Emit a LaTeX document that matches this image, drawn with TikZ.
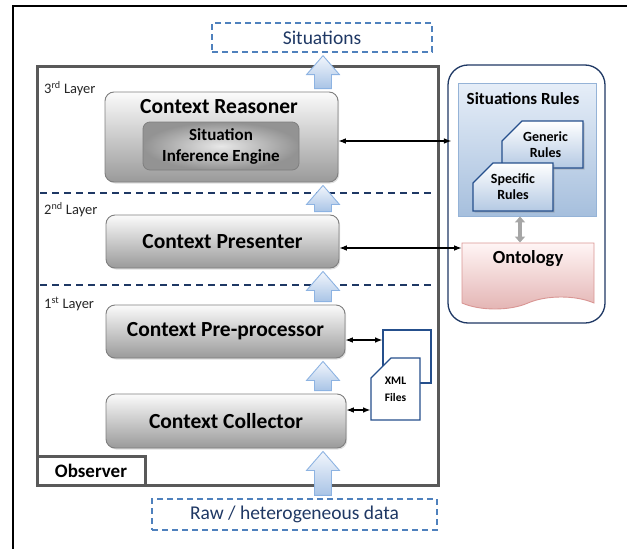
\documentclass[tikz,border=0pt]{standalone}
\usepackage{fontspec}
\setmainfont{Carlito}
\usetikzlibrary{arrows.meta}
\usetikzlibrary{calc}
\usetikzlibrary{shapes.misc}
\usetikzlibrary{shapes.symbols}
\usetikzlibrary{shadows}

\definecolor{dashblue}{HTML}{4F81BD}
\definecolor{navytext}{HTML}{1F3864}
\definecolor{divnavy}{HTML}{1F3864}
\definecolor{boxedge}{HTML}{7F7F7F}
\definecolor{boxtop}{HTML}{FBFBFB}
\definecolor{boxbot}{HTML}{9A9A9A}
\definecolor{flowtop}{HTML}{F2F6FC}
\definecolor{flowbot}{HTML}{A9C4E6}
\definecolor{flowedge}{HTML}{8DB3E2}
\definecolor{rulestop}{HTML}{E6EEF8}
\definecolor{rulesbot}{HTML}{A6BFDD}
\definecolor{rulesedge}{HTML}{95B3D7}
\definecolor{docedge}{HTML}{254F8C}
\definecolor{doctop}{HTML}{FFFFFF}
\definecolor{docbot}{HTML}{B4C9E3}
\definecolor{onttop}{HTML}{FFF5F5}
\definecolor{ontbot}{HTML}{E3B3B2}
\definecolor{ontedge}{HTML}{D99694}

% upward block arrow from the top of one node to the bottom of another
\newcommand\upflow[2]{%
  \draw[flowarrow] let \p1=(#1.north -| flowx), \p2=(#2.south -| flowx) in
    (\x1-8.5pt,\y1+3pt) -- (\x1-8.5pt,\y2-22pt) -- (\x1-16.5pt,\y2-22pt) --
    (\x1,\y2-3pt) -- (\x1+16.5pt,\y2-22pt) -- (\x1+8.5pt,\y2-22pt) --
    (\x1+8.5pt,\y1+3pt) -- cycle;
}

\begin{document}
\begin{tikzpicture}[x=1pt,y=-1pt,
  layerbox/.style={draw=boxedge, line width=0.9pt, rounded corners=9pt,
    top color=boxtop, bottom color=boxbot,
    drop shadow={opacity=0.25, shadow xshift=1.2pt, shadow yshift=-1.5pt},
    font=\bfseries\fontsize{21.5}{25}\selectfont},
  enginebox/.style={draw=boxedge, line width=0.8pt, rounded corners=7pt,
    inner color=gray!18, outer color=gray!85, align=center,
    font=\bfseries\fontsize{17}{21}\selectfont},
  dashbox/.style={draw=dashblue, line width=1.3pt, dash pattern=on 6pt off 4pt,
    text=navytext, font=\fontsize{19.5}{22}\selectfont},
  obsframe/.style={draw=black!65, line width=3pt},
  layerlbl/.style={anchor=west, inner sep=0pt, text=black!85,
    font=\fontsize{14.5}{16}\selectfont},
  divider/.style={draw=divnavy, line width=1.4pt, dash pattern=on 7pt off 5pt},
  flowarrow/.style={draw=flowedge, line width=0.9pt, top color=flowtop,
    bottom color=flowbot},
  biarrow/.style={{Latex[length=2.6mm,width=2mm]}-{Latex[length=2.6mm,width=2mm]},
    line width=1.2pt},
  docpage/.style={chamfered rectangle, chamfered rectangle corners=north west,
    chamfered rectangle xsep=10pt, chamfered rectangle ysep=10pt,
    draw=docedge, line width=1.1pt, inner sep=0pt, align=center},
  ruledoc/.style={docpage, top color=doctop, bottom color=docbot,
    drop shadow={opacity=0.35, shadow xshift=1.5pt, shadow yshift=-1.5pt},
    font=\bfseries\fontsize{14}{16}\selectfont},
  xmldoc/.style={docpage, fill=white, font=\bfseries\fontsize{11.5}{17}\selectfont}]

  \useasboundingbox (0,0) rectangle (627,549);
  \coordinate (flowx) at (323,0);

  % Draw page frame
  \draw[line width=2pt] (627,6) -| (13,549);

  % Draw observer
  \node[obsframe, minimum width=401pt, minimum height=419pt] (observer) at (237.5,275.5) {};
  \node[obsframe, fill=white, minimum width=108pt, minimum height=29pt,
        font=\bfseries\fontsize{19}{21}\selectfont] (obslbl) at (91,470.5) {Observer};

  % Draw layer borders
  \draw[divider] (40,193) -- (435,193);
  \draw[divider] (40,285) -- (435,285);
  \node[layerlbl] (lay3) at (44,89) {3\textsuperscript{rd} Layer};
  \node[layerlbl] (lay2) at (44,210) {2\textsuperscript{nd} Layer};
  \node[layerlbl] (lay1) at (44,304) {1\textsuperscript{st} Layer};

  % Draw context boxes
  \node[layerbox, minimum width=233pt, minimum height=90pt] (reasoner) at (221.5,137) {};
  \node[inner sep=0pt, font=\bfseries\fontsize{21.5}{25}\selectfont]
        (reasonerlbl) at (219,107) {Context Reasoner};
  \node[enginebox, minimum width=156pt, minimum height=48pt] (engine) at (221,146)
        {Situation\\Inference Engine};
  \node[layerbox, minimum width=233pt, minimum height=53pt] (presenter) at (222.5,241.5)
        {Context Presenter};
  \node[layerbox, minimum width=239pt, minimum height=53pt] (preproc) at (225.5,331.5)
        {Context Pre-processor};
  \node[layerbox, minimum width=240pt, minimum height=54pt] (collector) at (226,421)
        {Context Collector};

  % Draw input and output
  \node[dashbox, minimum width=220pt, minimum height=29pt] (situations) at (322,37.5) {Situations};
  \node[dashbox, minimum width=285pt, minimum height=31pt] (raw) at (294.5,514.5)
        {Raw / heterogeneous data};

  % Draw data flow
  \upflow{raw}{collector}
  \upflow{collector}{preproc}
  \upflow{preproc}{presenter}
  \upflow{presenter}{reasoner}
  \upflow{reasoner}{situations}

  % Draw XML files
  \node[xmldoc, minimum width=48pt, minimum height=53pt] (xmlback) at (407,356.5) {};
  \node[xmldoc, minimum width=49pt, minimum height=62pt] (xmlfront) at (395.5,389)
        {XML\\Files};
  \draw[biarrow] (preproc.east |- 0,340) -- (xmlback.west |- 0,340);
  \draw[biarrow] (collector.east |- 0,410) -- (xmlfront.west |- 0,410);

  % Draw knowledge side
  \node[draw=divnavy, line width=1.3pt, rounded corners=20pt, minimum width=157pt,
        minimum height=258pt] (knowledge) at (526.5,194) {};
  \node[draw=rulesedge, line width=0.9pt, top color=rulestop, bottom color=rulesbot,
        minimum width=138pt, minimum height=133pt] (rules) at (527,149.5) {};
  \node[inner sep=0pt, font=\bfseries\fontsize{17}{19}\selectfont]
        (ruleslbl) at (523,99) {Situations Rules};
  \node[ruledoc, minimum width=81pt, minimum height=47pt] (generic) at (542.5,144.5)
        {\hspace*{6pt}Generic\\\hspace*{6pt}Rules};
  \node[ruledoc, minimum width=80pt, minimum height=48pt] (specific) at (513,187)
        {Specific\\Rules};
  \node[tape, tape bend top=none, tape bend height=12pt, draw=ontedge, line width=0.9pt,
        top color=onttop, bottom color=ontbot, minimum width=132pt,
        minimum height=66pt] (ontology) at (528,270) {};
  \node[inner sep=0pt, font=\bfseries\fontsize{18.5}{20}\selectfont]
        (ontlbl) at (528,259) {Ontology};
  \draw[{Triangle[length=6pt,width=10pt]}-{Triangle[length=6pt,width=10pt]},
        draw=gray!70, line width=3.5pt] (rules.south -| 0,520) ++(520,0)
        coordinate (gtop) -- (gtop |- ontology.north);

  % Draw links to knowledge
  \draw[biarrow] (reasoner.east |- 0,141) -- (knowledge.west |- 0,141) -- ++(4,0);
  \draw[biarrow] (presenter.east |- 0,248) -- (ontology.west |- 0,248);
\end{tikzpicture}
\end{document}
